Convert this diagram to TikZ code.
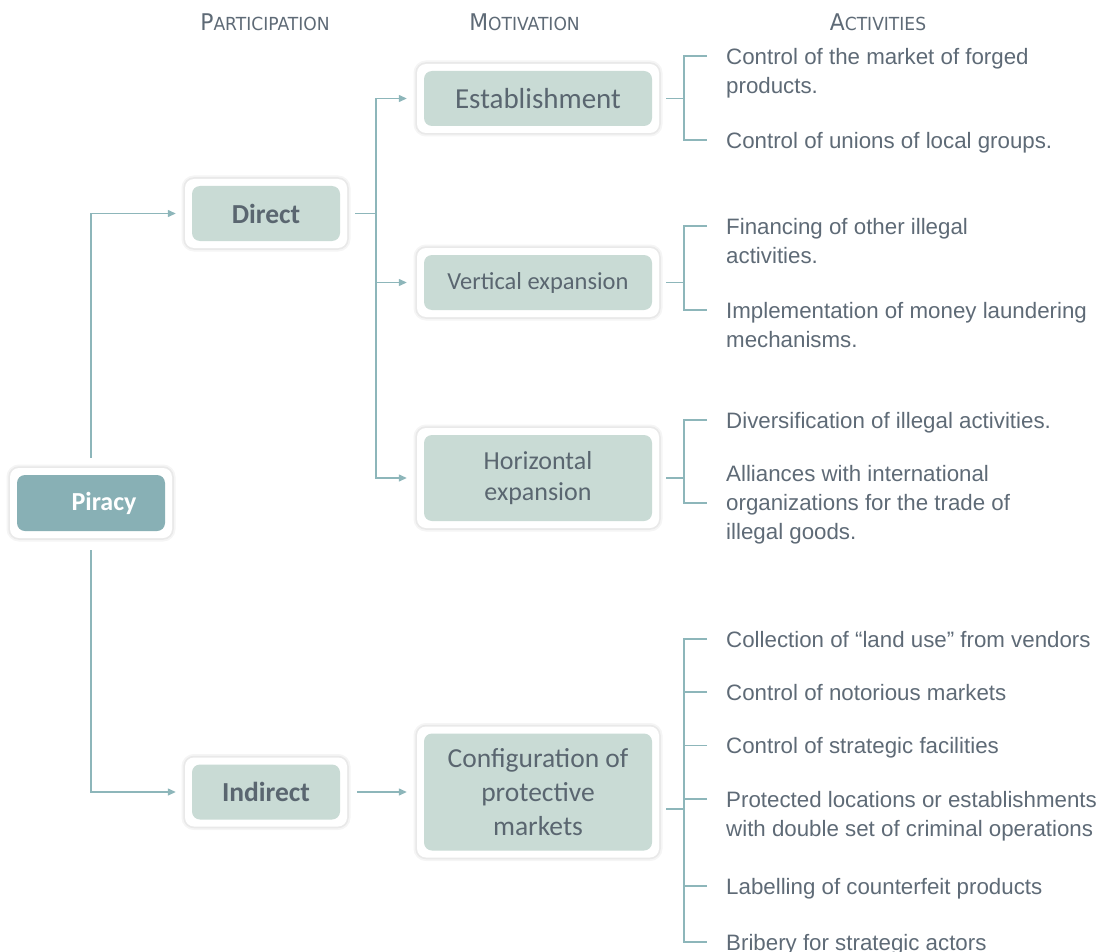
\documentclass[tikz,border=0pt]{standalone}
\usepackage{fontspec}
\usepackage{graphicx}
\setmainfont{Liberation Sans}
\newfontfamily\boxfont{Carlito}
\newfontfamily\headfont{DejaVu Sans}
\usetikzlibrary{arrows.meta}

\definecolor{linec}{HTML}{8DB6BA}
\definecolor{deepfill}{HTML}{88B0B5}
\definecolor{palefill}{HTML}{C9DBD5}
\definecolor{inkc}{HTML}{5E6A76}
\definecolor{boxink}{HTML}{5A6670}

% column heading in small capitals
\newcommand\colhead[2]{\scalebox{0.95}[1]{{\fontsize{23}{23}\selectfont #1}{\fontsize{18}{18}\selectfont #2}}}

\tikzset{
  card/.style={rounded corners=9pt, fill=white, inner sep=0pt, align=center,
    preaction={draw=black, draw opacity=0.04, line width=7pt},
    preaction={draw=black, draw opacity=0.05, line width=3.5pt},
    path picture={\fill[#1, rounded corners=8pt]
      ([shift={(7pt,7pt)}]path picture bounding box.south west) rectangle
      ([shift={(-7pt,-7pt)}]path picture bounding box.north east);}},
  partbox/.style={card=palefill, minimum width=162pt, minimum height=69pt,
    text=boxink, font=\boxfont\bfseries\fontsize{27.5}{32}\selectfont},
  motbox/.style={card=palefill, minimum width=242pt, text=boxink},
  conn/.style={draw=linec, line width=1.3pt},
  arr/.style={conn, -{Triangle[length=8pt,width=7pt]}},
  act/.style={anchor=north west, inner sep=0pt, align=left, text=inkc,
    font=\fontsize{22.3}{29}\selectfont},
  colhd/.style={anchor=base, inner sep=0pt, text=inkc, font=\headfont},
}

\begin{document}
\begin{tikzpicture}[x=1pt, y=-1pt]
\useasboundingbox (0,0) rectangle (1102,952);

% column headings
\node[colhd] (h1) at (265,31) {\colhead{P}{ARTICIPATION}};
\node[colhd] (h2) at (524.5,31) {\colhead{M}{OTIVATION}};
\node[colhd] (h3) at (878,31) {\colhead{A}{CTIVITIES}};

% root
\node[card=deepfill, minimum width=162pt, minimum height=70pt, text=white,
  font=\boxfont\bfseries\fontsize{26}{30}\selectfont] (pir) at (91,503) {\hspace*{26pt}Piracy};

% participation
\node[partbox] (dir) at (266,213.5) {Direct};
\node[partbox] (ind) at (266,792) {Indirect};

% motivation
\node[motbox, minimum height=69pt, font=\boxfont\fontsize{29}{34}\selectfont] (est) at (538,98.5) {Establishment};
\node[motbox, minimum height=69pt, font=\boxfont\fontsize{24.5}{30}\selectfont] (ver) at (538,282.5) {Vertical expansion};
\node[motbox, minimum height=100pt, font=\boxfont\fontsize{26}{30.5}\selectfont] (hor) at (538,478) {Horizontal\\expansion};
\node[motbox, minimum height=131pt, font=\boxfont\fontsize{27.5}{34}\selectfont] (cfg) at (538,792) {Configuration of\\protective\\markets};

% activities
\node[act] (a1) at (726,43.7) {\strut Control of the market of forged\\products.};
\node[act] (a2) at (726,127.7) {\strut Control of unions of local groups.};
\node[act] (a3) at (726,213.7) {\strut Financing of other illegal\\activities.};
\node[act] (a4) at (726,297.7) {\strut Implementation of money laundering\\mechanisms.};
\node[act] (a5) at (726,407.7) {\strut Diversification of illegal activities.};
\node[act] (a6) at (726,460.7) {\strut Alliances with international\\organizations for the trade of\\illegal goods.};
\node[act] (a7) at (726,626.7) {\strut Collection of “land use” from vendors};
\node[act] (a8) at (726,679.7) {\strut Control of notorious markets};
\node[act] (a9) at (726,733.2) {\strut Control of strategic facilities};
\node[act] (a10) at (726,786.7) {\strut Protected locations or establishments\\with double set of criminal operations};
\node[act] (a11) at (726,873.7) {\strut Labelling of counterfeit products};
\node[act] (a12) at (726,929.7) {\strut Bribery for strategic actors};

% branch tips in front of each activity
\foreach \i in {1,2,3,4,5,7,8,9,10,11,12}
  \coordinate (p\i) at ([xshift=-19pt,yshift=-12.3pt]a\i.north west);
\coordinate (p6) at ([xshift=-19pt,yshift=-42.3pt]a6.north west);

% root to participation
\draw[arr] ([yshift=10pt]pir.north) |- ([xshift=-9pt]dir.west);
\draw[arr] ([yshift=-12pt]pir.south) |- ([xshift=-9pt]ind.west);

% participation to motivation
\coordinate (dj) at (376,213.5);
\draw[conn] ([xshift=8pt]dir.east) -- (dj);
\draw[arr] (dj) |- ([xshift=-10pt]est.west);
\draw[arr] (dj) |- ([xshift=-10pt]ver.west);
\draw[arr] (dj) |- ([xshift=-10pt]hor.west);
\draw[arr] ([xshift=10pt]ind.east) -- ([xshift=-10pt]cfg.west);

% motivation to activities
\coordinate (k1) at (684,98.5);
\draw[conn] ([xshift=7pt]est.east) -- (k1);
\draw[conn] (p1) -| (k1) |- (p2);

\coordinate (k2) at (684,282.5);
\draw[conn] ([xshift=7pt]ver.east) -- (k2);
\draw[conn] (p3) -| (k2) |- (p4);

\coordinate (k3) at (684,478);
\draw[conn] ([xshift=7pt]hor.east) -- (k3);
\draw[conn] (p5) -| (k3) |- (p6);

\coordinate (k4) at (684,809);
\coordinate (c4) at ([xshift=7pt,yshift=-17pt]cfg.east);
\draw[conn] (c4) -- (k4);
\draw[conn] (p7) -| (k4) |- (p12);
\foreach \i in {8,9,10,11}
  \draw[conn] (p\i) -- (p\i -| k4);
\end{tikzpicture}
\end{document}
